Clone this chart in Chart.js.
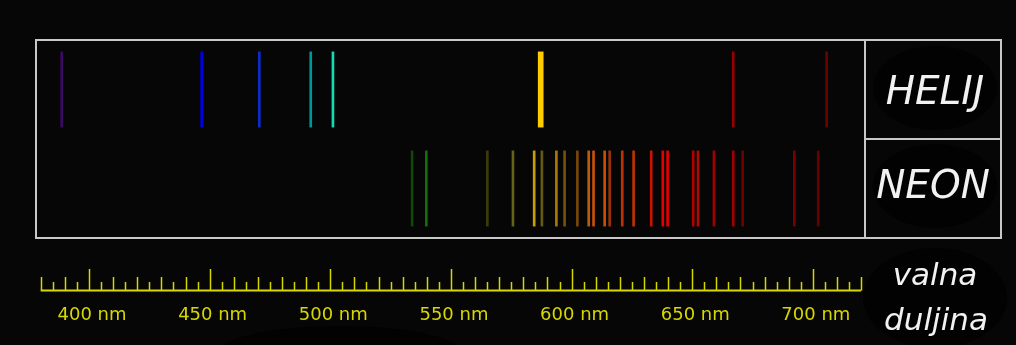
<!DOCTYPE html>
<html>
<head>
<meta charset="utf-8">
<script src="https://cdn.jsdelivr.net/npm/chart.js@4/dist/chart.umd.min.js"></script>
<style>
  html, body { margin: 0; padding: 0; background: #060606; }
  #wrap { width: 1016px; height: 345px; }
</style>
</head>
<body>
<div id="wrap"><canvas id="spectrum"></canvas></div>
<script>
// wavelengths (nm)
const heliumLines = [388.7, 446.7, 470.6, 491.9, 501.1, 667.0, 705.7];
const heliumColors = ['#3c0a64', '#0000e0', '#0c2cc8', '#009696', '#10dcb4', '#960000', '#6e0000'];
const heliumStrong = [587.2];
const heliumStrongColors = ['#ffcc00'];

const neonLines = [533.9, 539.8, 565.1, 575.7, 584.5, 587.7, 593.7, 597.1, 602.4, 607.1,
  609.1, 613.7, 615.8, 621.0, 625.7, 633.0, 637.8, 639.8, 650.4, 652.4,
  659.0, 667.0, 670.9, 692.3, 702.2];
const neonColors = ['#14460a', '#146e0a', '#3c3c0a', '#646414', '#c8a000', '#645a14', '#aa7800',
  '#78500a', '#78460a', '#be5a0a', '#c8500a', '#c85000', '#96320a', '#be3200', '#be3200',
  '#c81400', '#e60000', '#e60000', '#b40000', '#aa0a0a', '#a00000', '#a00000', '#6e0000',
  '#780000', '#640000'];

const rulerLabels = [400, 450, 500, 550, 600, 650, 700];
const elements = ['HELIJ', 'NEON'];
const axisTitle = ['valna', 'duljina'];

const HE_BAND = [1.12, 1.88];
const NE_BAND = [0.12, 0.88];

const YELLOW = 'rgb(215,215,0)';

const frame = {
  id: 'frame',
  beforeDraw(chart) {
    const ctx = chart.ctx;
    const a = chart.chartArea;
    ctx.save();
    ctx.fillStyle = '#060606';
    ctx.fillRect(0, 0, chart.width, chart.height);
    // faint dark blobs behind the labels
    ctx.fillStyle = '#020202';
    const cx = a.right + 70;
    [[cx, 88, 62, 42], [cx, 186, 62, 42], [cx, 298, 72, 50], [340, 352, 120, 26]].forEach(e => {
      ctx.beginPath();
      ctx.ellipse(e[0], e[1], e[2], e[3], 0, 0, Math.PI * 2);
      ctx.fill();
    });
    ctx.restore();
  },
  afterDraw(chart) {
    const ctx = chart.ctx;
    const a = chart.chartArea;
    const x = chart.scales.x;
    const right = a.right + 136;
    const midY = (a.top + a.bottom) / 2;
    ctx.save();

    // box
    ctx.strokeStyle = '#c8c8c8';
    ctx.lineWidth = 2;
    ctx.strokeRect(a.left, a.top, right - a.left, a.bottom - a.top);
    ctx.beginPath();
    ctx.moveTo(a.right, a.top);
    ctx.lineTo(a.right, a.bottom);
    ctx.moveTo(a.right, midY);
    ctx.lineTo(right, midY);
    ctx.stroke();

    // element names
    const cx = (a.right + right) / 2;
    ctx.fillStyle = '#f2f2f2';
    ctx.textAlign = 'center';
    ctx.textBaseline = 'alphabetic';
    ctx.font = 'italic 39px "DejaVu Sans"';
    ctx.fillText(elements[0], cx + 2, 104);
    ctx.fillText(elements[1], cx, 198);
    ctx.font = 'italic 31px "DejaVu Sans"';
    ctx.fillText(axisTitle[0], cx + 2, 285);
    ctx.fillText(axisTitle[1], cx + 3, 330);

    // ruler
    const base = 290.5;
    ctx.strokeStyle = YELLOW;
    ctx.lineWidth = 2;
    ctx.beginPath();
    ctx.moveTo(x.getPixelForValue(380), base);
    ctx.lineTo(x.getPixelForValue(720), base);
    ctx.stroke();
    ctx.lineWidth = 1.5;
    ctx.beginPath();
    for (let nm = 380; nm <= 720; nm += 5) {
      const px = Math.round(x.getPixelForValue(nm)) + 0.5;
      const top = nm % 50 === 0 ? 269 : (nm % 10 === 0 ? 277 : 282);
      ctx.moveTo(px, base);
      ctx.lineTo(px, top);
    }
    ctx.stroke();

    ctx.fillStyle = YELLOW;
    ctx.font = '18px "DejaVu Sans"';
    ctx.textBaseline = 'middle';
    rulerLabels.forEach(nm => {
      ctx.fillText(nm + ' nm', x.getPixelForValue(nm) + 3, 315);
    });
    ctx.restore();
  }
};

function band(lines, range) {
  return lines.map(nm => ({ x: nm, y: range }));
}

new Chart(document.getElementById('spectrum'), {
  type: 'bar',
  data: {
    datasets: [{
      label: 'Helij',
      data: band(heliumLines, HE_BAND),
      backgroundColor: heliumColors,
      barThickness: 2
    }, {
      label: 'Helij (jaka)',
      data: band(heliumStrong, HE_BAND),
      backgroundColor: heliumStrongColors,
      barThickness: 5
    }, {
      label: 'Neon',
      data: band(neonLines, NE_BAND),
      backgroundColor: neonColors,
      barThickness: 2
    }]
  },
  options: {
    responsive: true,
    maintainAspectRatio: false,
    animation: false,
    grouped: false,
    layout: { padding: { left: 36, right: 151, top: 40, bottom: 107 } },
    scales: {
      x: { type: 'linear', min: 378.04, max: 721.6, offset: false, display: false },
      y: { min: 0, max: 2, display: false }
    },
    plugins: {
      legend: { display: false },
      tooltip: { enabled: false }
    }
  },
  plugins: [frame]
});
</script>
</body>
</html>
